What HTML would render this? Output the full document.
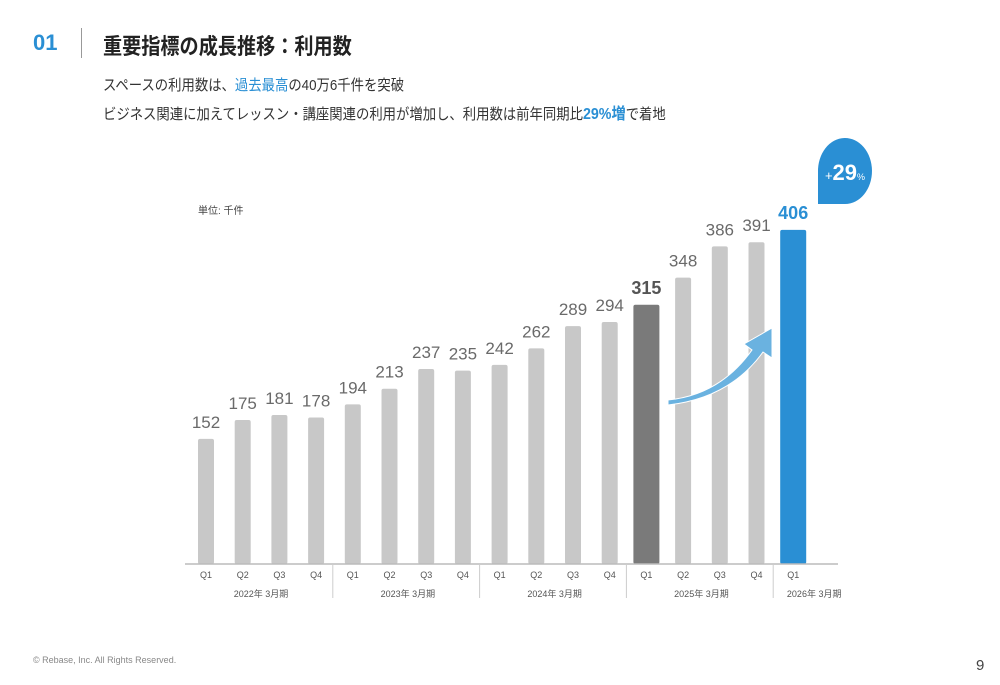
<!DOCTYPE html>
<html><head><meta charset="utf-8"><style>
body{margin:0;width:1000px;height:685px;background:#fff;font-family:"Liberation Sans","Noto Sans CJK JP",sans-serif;position:relative;overflow:hidden}
.a{position:absolute;white-space:nowrap;transform-origin:0 0}
</style></head><body>
<div class="a" style="left:33px;top:30px;font-size:22px;font-weight:bold;color:#2a8fd4">01</div>
<div class="a" style="left:81px;top:28px;width:1px;height:30px;background:#999"></div>
<div class="a" style="left:103px;top:29px;font-size:22px;font-weight:bold;color:#222;transform:scaleX(0.87)">重要指標の成長推移：利用数</div>
<div class="a" style="left:103px;top:74px;font-size:15px;color:#333;transform:scaleX(0.89)">スペースの利用数は、<span style="color:#2a8fd4">過去最高</span>の40万6千件を突破</div>
<div class="a" style="left:103px;top:100px;font-size:15px;color:#333;transform:scaleX(0.89)">ビジネス関連に加えてレッスン・講座関連の利用が増加し、利用数は前年同期比<span style="color:#2a8fd4;font-weight:bold;font-size:16px">29%増</span>で着地</div>
<div class="a" style="left:198px;top:202px;font-size:10px;color:#444">単位: 千件</div>
<div class="a" style="left:33px;top:655px;font-size:9px;color:#888">© Rebase, Inc. All Rights Reserved.</div>
<div class="a" style="left:976px;top:657px;font-size:15px;color:#444">9</div>
<svg id="c" width="1000" height="685" style="position:absolute;left:0;top:0"></svg>
<script>
const quarters=["Q1","Q2","Q3","Q4","Q1","Q2","Q3","Q4","Q1","Q2","Q3","Q4","Q1","Q2","Q3","Q4","Q1"];
const values=[152,175,181,178,194,213,237,235,242,262,289,294,315,348,386,391,406];
const years=["2022年 3月期","2023年 3月期","2024年 3月期","2025年 3月期","2026年 3月期"];
const NS="http://www.w3.org/2000/svg",svg=document.getElementById('c');
const base=564,x0=206,step=36.7,k=0.823;
const xs=i=>x0+i*step, ys=v=>base-v*k;
function mk(t,a,p){const e=document.createElementNS(NS,t);for(const n in a)e.setAttribute(n,a[n]);(p||svg).appendChild(e);return e;}
values.forEach((v,i)=>{
 const hi=i===12?'#7a7a7a':i===16?'#2a8fd4':'#c8c8c8';
 const w=(i===12||i===16)?26:16;
 const r=mk('rect',{x:xs(i)-w/2,y:ys(v),width:w,height:base-ys(v),rx:2,fill:hi});
 
 
 const t=mk('text',{x:xs(i),y:ys(v)-11,'text-anchor':'middle','font-size':i===12||i===16?18:17,'font-weight':i===12||i===16?'bold':'normal',fill:i===16?'#2a8fd4':i===12?'#555':'#6a6a6a'});
 t.textContent=v;
 
 
 const q=mk('text',{x:xs(i),y:578,'text-anchor':'middle','font-size':9,fill:'#555'});
 q.textContent=quarters[i];
 
 
});
mk('line',{x1:185,x2:838,y1:base,y2:base,stroke:'#bbb','stroke-width':1.5});
years.forEach((y,j)=>{
 const c=j<4?(xs(j*4)+xs(j*4+3))/2:xs(16)+21;
 const t=mk('text',{x:c,y:597,'text-anchor':'middle','font-size':9,fill:'#555'});
 t.textContent=y;
 
 
 if(j>0)mk('line',{x1:xs(j*4)-20,x2:xs(j*4)-20,y1:base,y2:598,stroke:'#ccc'});
});
const ar=mk('path',{d:'M668 400 Q720 395 752 350 L744 344 L772 328 L772 358 L763 352 Q730 398 668 405 Z',fill:'#6ab2e0',stroke:'#fff','stroke-width':1});


const b=mk('path',{d:'M818 204 L818 172 A27 33 0 1 1 845 204 Z',fill:'#2a8fd4'});


const bt=mk('text',{x:845,y:180,'text-anchor':'middle',fill:'#fff','font-weight':'bold','font-size':22});
bt.innerHTML='<tspan font-size="13" font-weight="normal">+</tspan>29<tspan font-size="9" font-weight="normal">%</tspan>';


</script>
</body></html>
